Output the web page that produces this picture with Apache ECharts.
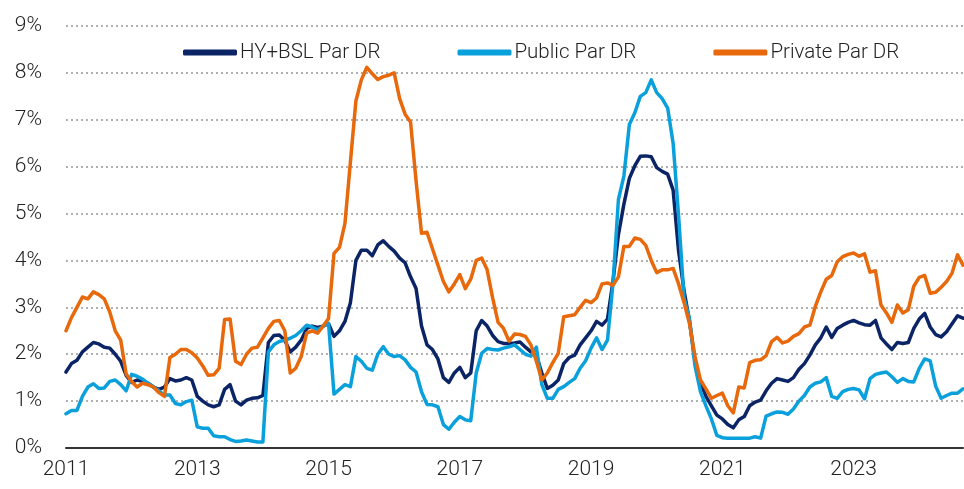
<!DOCTYPE html>
<html>
<head>
<meta charset="utf-8">
<script src="https://cdn.jsdelivr.net/npm/echarts@6/dist/echarts.min.js"></script>
<style>
  html, body { margin: 0; padding: 0; background: #fff; }
  #chart { width: 964px; height: 489px; }
</style>
</head>
<body>
<div id="chart"></div>
<script>
// Monthly observations, Jan 2011 .. Sep 2024
const startYear = 2011;
const monthCount = 165;
const categories = [];
for (let i = 0; i < monthCount; i++) {
  const y = startYear + Math.floor(i / 12);
  const m = (i % 12) + 1;
  categories.push(y + '-' + (m < 10 ? '0' + m : m));
}

const seriesNames = ['HY+BSL Par DR', 'Public Par DR', 'Private Par DR'];

const hyBslParDR = [
  1.62, 1.80, 1.87, 2.05, 2.15, 2.25, 2.22, 2.15, 2.13, 2.00, 1.85, 1.55,
  1.40, 1.45, 1.42, 1.38, 1.30, 1.25, 1.30, 1.48, 1.43, 1.45, 1.50, 1.45,
  1.10, 1.00, 0.92, 0.88, 0.92, 1.25, 1.35, 1.00, 0.92, 1.02, 1.06, 1.07,
  1.12, 2.25, 2.40, 2.41, 2.30, 2.05, 2.15, 2.30, 2.55, 2.60, 2.57, 2.60,
  2.65, 2.38, 2.50, 2.70, 3.10, 4.00, 4.22, 4.22, 4.10, 4.33, 4.42, 4.30,
  4.20, 4.05, 3.95, 3.65, 3.40, 2.60, 2.20, 2.10, 1.90, 1.50, 1.40, 1.60,
  1.72, 1.50, 1.60, 2.50, 2.72, 2.60, 2.40, 2.27, 2.23, 2.23, 2.24, 2.26,
  2.15, 2.05, 1.97, 1.60, 1.27, 1.34, 1.45, 1.80, 1.93, 1.98, 2.20, 2.35,
  2.50, 2.70, 2.62, 2.75, 3.55, 4.55, 5.20, 5.75, 6.02, 6.22, 6.23, 6.21,
  5.98, 5.90, 5.84, 5.50, 4.20, 3.35, 2.70, 1.85, 1.40, 1.10, 0.90, 0.70,
  0.62, 0.50, 0.43, 0.60, 0.67, 0.90, 0.98, 1.02, 1.22, 1.38, 1.48, 1.45,
  1.42, 1.50, 1.68, 1.80, 1.98, 2.20, 2.35, 2.58, 2.36, 2.55, 2.62, 2.68,
  2.72, 2.67, 2.63, 2.62, 2.72, 2.35, 2.22, 2.10, 2.25, 2.23, 2.25, 2.55,
  2.75, 2.87, 2.58, 2.42, 2.37, 2.48, 2.65, 2.82, 2.77
];

const publicParDR = [
  0.73, 0.80, 0.80, 1.10, 1.30, 1.37, 1.27, 1.28, 1.42, 1.45, 1.35, 1.22,
  1.57, 1.53, 1.47, 1.38, 1.30, 1.22, 1.13, 1.13, 0.95, 0.92, 0.99, 1.02,
  0.45, 0.42, 0.42, 0.26, 0.24, 0.24, 0.18, 0.14, 0.15, 0.17, 0.15, 0.13,
  0.13, 2.05, 2.20, 2.27, 2.30, 2.34, 2.40, 2.50, 2.62, 2.58, 2.52, 2.60,
  2.66, 1.15, 1.25, 1.35, 1.31, 1.95, 1.85, 1.70, 1.66, 2.00, 2.16, 2.00,
  1.95, 1.97, 1.88, 1.72, 1.62, 1.20, 0.93, 0.92, 0.88, 0.50, 0.40, 0.55,
  0.67, 0.60, 0.58, 1.60, 2.02, 2.12, 2.10, 2.09, 2.13, 2.16, 2.20, 2.10,
  2.00, 1.96, 2.15, 1.35, 1.06, 1.06, 1.25, 1.31, 1.40, 1.48, 1.70, 1.86,
  2.13, 2.35, 2.10, 2.30, 3.50, 5.30, 5.80, 6.90, 7.15, 7.50, 7.58, 7.85,
  7.58, 7.45, 7.25, 6.50, 4.95, 3.20, 2.75, 1.75, 1.20, 0.90, 0.62, 0.27,
  0.22, 0.21, 0.21, 0.21, 0.21, 0.21, 0.24, 0.21, 0.68, 0.73, 0.77, 0.76,
  0.72, 0.83, 1.00, 1.12, 1.30, 1.38, 1.41, 1.50, 1.10, 1.06, 1.20, 1.25,
  1.27, 1.24, 1.05, 1.48, 1.57, 1.60, 1.62, 1.52, 1.40, 1.48, 1.42, 1.41,
  1.70, 1.90, 1.86, 1.32, 1.06, 1.12, 1.17, 1.17, 1.26
];

const privateParDR = [
  2.50, 2.78, 3.00, 3.22, 3.18, 3.33, 3.27, 3.18, 2.90, 2.50, 2.30, 1.58,
  1.42, 1.30, 1.38, 1.35, 1.30, 1.18, 1.10, 1.93, 2.00, 2.10, 2.10, 2.03,
  1.92, 1.75, 1.55, 1.56, 1.70, 2.74, 2.75, 1.85, 1.78, 2.00, 2.13, 2.15,
  2.35, 2.55, 2.70, 2.72, 2.50, 1.60, 1.70, 1.95, 2.45, 2.50, 2.45, 2.60,
  2.76, 4.15, 4.28, 4.79, 6.10, 7.40, 7.85, 8.12, 7.98, 7.86, 7.92, 7.95,
  8.00, 7.45, 7.12, 6.95, 5.70, 4.58, 4.60, 4.25, 3.90, 3.55, 3.33, 3.50,
  3.70, 3.40, 3.60, 4.00, 4.05, 3.80, 3.20, 2.68, 2.55, 2.28, 2.43, 2.42,
  2.38, 2.20, 1.85, 1.45, 1.60, 1.82, 2.02, 2.80, 2.82, 2.84, 3.00, 3.15,
  3.10, 3.20, 3.50, 3.52, 3.47, 3.65, 4.30, 4.30, 4.48, 4.45, 4.32, 4.00,
  3.74, 3.80, 3.80, 3.83, 3.50, 3.10, 2.65, 1.95, 1.45, 1.26, 1.06, 1.12,
  1.17, 0.90, 0.75, 1.30, 1.28, 1.82, 1.87, 1.88, 1.97, 2.27, 2.36, 2.24,
  2.28, 2.38, 2.44, 2.58, 2.62, 3.02, 3.33, 3.60, 3.68, 3.97, 4.08, 4.13,
  4.16, 4.09, 4.14, 3.75, 3.78, 3.05, 2.88, 2.68, 3.05, 2.88, 2.95, 3.45,
  3.64, 3.68, 3.30, 3.32, 3.43, 3.55, 3.73, 4.12, 3.90
];

const yTicks = { min: 0, max: 9, interval: 1 };
const colors = ['#0b2466', '#0aa0dc', '#e8680c'];
const font = 'Roboto, "Liberation Sans", sans-serif';

const chart = echarts.init(document.getElementById('chart'), null, { renderer: 'canvas' });

function mk(name, data, color) {
  return {
    name: name,
    type: 'line',
    data: data,
    symbol: 'none',
    smooth: false,
    lineStyle: { color: color, width: 3.5, join: 'round', cap: 'round' },
    itemStyle: { color: color },
    z: 3
  };
}

chart.setOption({
  animation: false,
  backgroundColor: '#fff',
  grid: { left: 66, right: 1, top: 26, bottom: 41, containLabel: false },
  legend: {
    left: 178,
    top: 37,
    icon: 'roundRect',
    itemWidth: 54,
    itemHeight: 6,
    itemGap: 77,
    textStyle: { fontFamily: font, fontWeight: 300, fontSize: 20.5, color: '#222', padding: [0, 0, 0, -2] },
    data: seriesNames
  },
  xAxis: {
    type: 'category',
    data: categories,
    boundaryGap: false,
    axisLine: { show: true, lineStyle: { color: '#333', width: 2 } },
    axisTick: { show: false },
    axisLabel: {
      interval: function (idx) { return idx % 24 === 0; },
      formatter: function (v) { return v.slice(0, 4); },
      fontFamily: font,
      fontWeight: 300,
      fontSize: 21,
      color: '#222',
      margin: 11
    },
    splitLine: { show: false }
  },
  yAxis: {
    type: 'value',
    min: yTicks.min,
    max: yTicks.max,
    interval: yTicks.interval,
    axisLine: { show: false },
    axisTick: { show: false },
    axisLabel: {
      formatter: '{value}%',
      fontFamily: font,
      fontWeight: 300,
      fontSize: 21,
      color: '#222',
      margin: 24
    },
    splitLine: {
      show: true,
      lineStyle: { color: '#b0b0b0', width: 2, type: [2, 3] }
    }
  },
  series: [
    mk(seriesNames[0], hyBslParDR, colors[0]),
    mk(seriesNames[1], publicParDR, colors[1]),
    mk(seriesNames[2], privateParDR, colors[2])
  ]
});
</script>
</body>
</html>
